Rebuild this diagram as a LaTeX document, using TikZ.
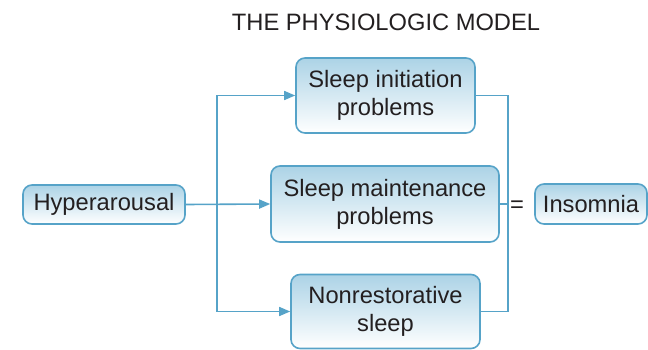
\documentclass[tikz,border=0pt]{standalone}
\usepackage{fontspec}
\setmainfont{Liberation Sans}
\usetikzlibrary{arrows.meta}
\definecolor{linkblue}{RGB}{86,163,200}
\definecolor{boxtop}{RGB}{172,211,230}
\definecolor{inktext}{RGB}{35,31,32}
\begin{document}
\begin{tikzpicture}[x=1pt,y=-1pt,
  labelfont/.style={font=\fontsize{23.7}{28}\selectfont, text=inktext},
  stagebox/.style={draw=linkblue, line width=1.6pt, rounded corners=9pt,
    top color=boxtop, bottom color=white, align=center, inner sep=0pt,
    labelfont},
  link/.style={draw=linkblue, line width=1.6pt},
  arrowlink/.style={link, -{Triangle[length=11pt,width=9pt]}}]
  \useasboundingbox (0,0) rectangle (648,350);

  \node[labelfont] (title) at (386,22) {THE PHYSIOLOGIC MODEL};

  \node[stagebox, minimum width=162pt, minimum height=39pt] (hyp) at (104,204.5) {Hyperarousal};
  \node[stagebox, minimum width=179pt, minimum height=75pt] (init) at (385.5,95.5) {Sleep initiation\\problems};
  \node[stagebox, minimum width=228pt, minimum height=76pt] (maint) at (385,204) {Sleep maintenance\\problems};
  \node[stagebox, minimum width=189pt, minimum height=74pt] (nonrest) at (385.5,311.5) {Nonrestorative\\sleep};
  \node[stagebox, minimum width=112pt, minimum height=40pt] (ins) at (591,204) {Insomnia};

  \node[labelfont] (eq) at (517,207) {=};

  % branching from hyperarousal
  \coordinate (split) at (217,204);
  \coordinate (merge) at (508,204);
  \draw[arrowlink] (hyp.east) -- (maint.west);
  \draw[arrowlink] (split) |- (init.west);
  \draw[arrowlink] (split) |- (nonrest.west);

  % joining into the right bracket
  \draw[link] (init.east) -| (merge);
  \draw[link] (nonrest.east) -| (merge);
  \draw[link] (maint.east) -- (merge);
\end{tikzpicture}
\end{document}
